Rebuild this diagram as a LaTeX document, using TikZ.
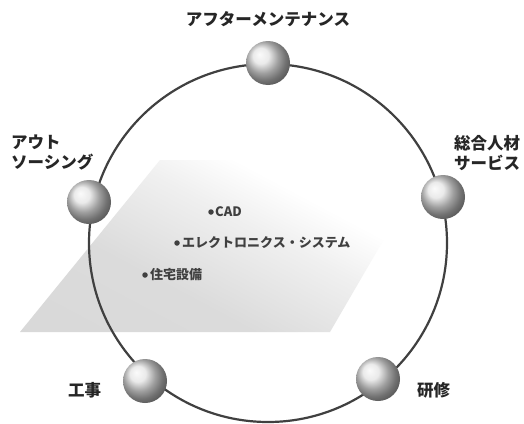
\documentclass[tikz,border=0pt]{standalone}
\usepackage{fontspec}
\newfontfamily\jp{Noto Sans CJK JP}
\usetikzlibrary{shadings}
\pgfdeclarehorizontalshading{shadowfade}{100bp}{color(0bp)=(gray!32); color(38bp)=(gray!28); color(56bp)=(gray!12); color(66bp)=(white); color(100bp)=(white)}
\begin{document}
\begin{tikzpicture}[x=1pt,y=-1pt,
  ring/.style={draw=black!75,line width=2.2pt},
  ball/.style={circle,minimum size=44pt,inner sep=0pt,shading=ball,ball color=gray!22},
  biglabel/.style={font=\jp\fontsize{16.5}{20}\selectfont\bfseries,text=black!85,inner sep=0pt},
  item/.style={font=\jp\fontsize{13}{15}\selectfont\bfseries,text=black!75,inner sep=0pt,anchor=west},
  itemdot/.style={circle,fill=black!75,inner sep=0pt,minimum size=5.5pt}
]
\useasboundingbox (0,0) rectangle (524,423);
\fill[white] (0,0) rectangle (524,423);
% background shadow
\shade[shading=shadowfade,shading angle=62]
  (20,332) -- (330,332) -- (430,160) -- (160,160) -- cycle;
% ring
\coordinate (c) at (268,243);
\draw[ring] (c) circle[radius=179];
% balls
\node[ball] (top) at (268,63) {};
\node[ball] (left) at (89,202) {};
\node[ball] (right) at (443,197) {};
\node[ball] (bl) at (145,381) {};
\node[ball] (br) at (378,379) {};
% labels
\node[biglabel] (ltop) at (268,19) {アフターメンテナンス};
\node[biglabel,align=left,anchor=west] (lleft) at (11,153) {アウト\\ソーシング};
\node[biglabel,align=left,anchor=west] (lright) at (454,153) {総合人材\\サービス};
\node[biglabel,anchor=west] (lbl) at (68,390) {工事};
\node[biglabel,anchor=west] (lbr) at (417,390) {研修};
% items
\node[itemdot] (d1) at (211,212) {};
\node[item] (t1) at (215,212) {CAD};
\node[itemdot] (d2) at (177,243) {};
\node[item] (t2) at (182,243) {エレクトロニクス・システム};
\node[itemdot] (d3) at (145,275) {};
\node[item] (t3) at (150,275) {住宅設備};
\end{tikzpicture}
\end{document}
